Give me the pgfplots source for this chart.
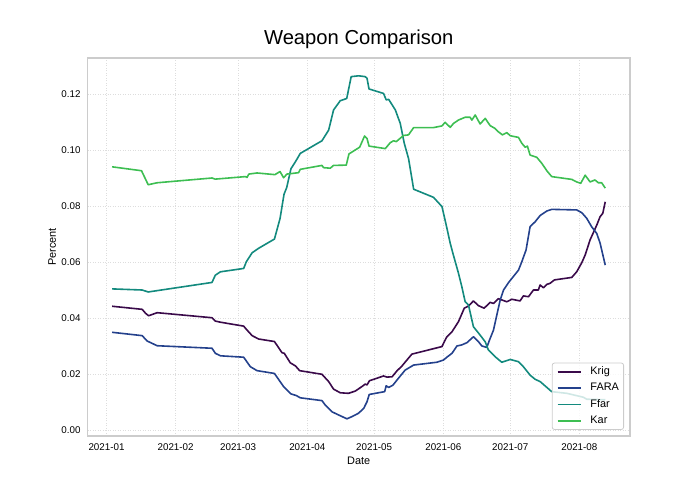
\documentclass[border=0pt]{standalone}
\usepackage{pgfplots}
\pgfplotsset{compat=1.18}
\usepackage{fontspec}
\setmainfont{Liberation Sans}
\definecolor{cKrig}{HTML}{3A0A4A}
\definecolor{cFARA}{HTML}{24418C}
\definecolor{cFfar}{HTML}{138A7E}
\definecolor{cKar}{HTML}{3DBE52}
\definecolor{frame}{HTML}{CCCCCC}
\definecolor{gridc}{HTML}{DDDDDD}
\begin{document}
\begin{tikzpicture}[x=1pt,y=1pt]
\path[use as bounding box] (0,0) rectangle (700,490);
\begin{axis}[
  at={(87.5pt,54pt)}, anchor=south west,
  scale only axis, width=542.5pt, height=378pt,
  xmin=-8.51, xmax=234.7, ymin=-0.00214, ymax=0.13286,
  xtick={0,31,59,90,120,151,181,212},
  xticklabels={2021-01,2021-02,2021-03,2021-04,2021-05,2021-06,2021-07,2021-08},
  ytick={0,0.02,0.04,0.06,0.08,0.10,0.12},
  scaled y ticks=false,
  /pgf/number format/assume math mode=true,
  tick label style={font=\fontsize{9.8}{11}\selectfont, inner sep=0pt},
  xticklabel style={yshift=-7pt},
  yticklabel style={xshift=-6.8pt, /pgf/number format/fixed, /pgf/number format/fixed zerofill, /pgf/number format/precision=2},
  major tick length=0pt,
  grid=major,
  grid style={draw=gridc, line width=0.9pt, dash pattern=on 0.9pt off 1.6pt},
  axis line style={draw=frame, line width=1.3pt},
  title={Weapon Comparison},
  title style={font=\fontsize{20.2}{23}\selectfont, at={(axis description cs:0.5,1)}, anchor=base, yshift=7.5pt, inner sep=0pt},
  xlabel={Date}, ylabel={Percent},
  xlabel style={font=\fontsize{10.9}{12}\selectfont, at={(axis description cs:0.5,-0.0741)}, anchor=base, inner sep=0pt},
  ylabel style={font=\fontsize{10.9}{12}\selectfont, at={(axis description cs:-0.0581,0.5)}, anchor=base, inner sep=0pt},
  legend cell align=left,
  legend image code/.code={\draw[#1, line width=1.6pt] (0pt,0pt) -- (23pt,0pt); \path (32pt,0pt);},
  legend style={at={(axis description cs:0.989,0.016)}, anchor=south east,
    draw=frame, line width=0.8pt, fill=white, fill opacity=0.8, text opacity=1,
    rounded corners=2.5pt, font=\fontsize{10.9}{12}\selectfont,
    inner xsep=4.7pt, inner ysep=4pt, row sep=6.6pt, column sep=0pt,
    nodes={inner sep=0pt, text height=7.7pt, text depth=2pt}},
  every axis plot/.append style={line width=1.6pt, line join=round},
]
\addplot[cKrig] coordinates {
(2.5,0.0442) (16.0,0.0431) (17.5,0.0417) (18.9,0.0408) (22.7,0.0419) (47.3,0.0401) (48.8,0.0389) (51.1,0.0385)
(61.5,0.0371) (63.0,0.0357) (65.3,0.0337) (68.2,0.0325) (75.3,0.0316) (78.7,0.0276) (79.7,0.0274) (82.4,0.0240)
(84.7,0.0229) (86.6,0.0212) (96.6,0.0199) (99.6,0.0173) (101.8,0.0146) (104.8,0.0133) (108.5,0.0131) (111.5,0.0139)
(114.5,0.0155) (116.0,0.0164) (116.8,0.0161) (117.9,0.0176) (124.2,0.0193) (125.7,0.0189) (128.0,0.0190) (130.2,0.0211)
(132.5,0.0229) (134.7,0.0250) (136.9,0.0271) (150.4,0.0298) (151.8,0.0321) (152.6,0.0333) (154.9,0.0351) (157.8,0.0387)
(160.4,0.0435) (162.3,0.0443) (164.5,0.0461) (166.8,0.0444) (169.3,0.0435) (172.0,0.0456) (173.5,0.0452) (175.7,0.0469)
(179.5,0.0458) (181.7,0.0467) (185.4,0.0461) (186.9,0.0479) (189.2,0.0476) (191.4,0.0500) (193.6,0.0500) (194.4,0.0518)
(195.9,0.0508) (197.4,0.0520) (198.9,0.0524) (200.8,0.0536) (208.6,0.0545) (210.8,0.0565) (213.1,0.0598) (214.6,0.0625)
(216.8,0.0679) (219.8,0.0732) (221.3,0.0762) (222.5,0.0774) (223.6,0.0815)
};
\addlegendentry{Krig}
\addplot[cFARA] coordinates {
(2.5,0.0349) (16.0,0.0337) (18.2,0.0318) (22.7,0.0301) (47.3,0.0292) (48.8,0.0274) (51.1,0.0265) (61.5,0.0260)
(64.5,0.0226) (67.5,0.0212) (75.3,0.0202) (79.4,0.0155) (82.7,0.0129) (85.1,0.0123) (86.9,0.0115) (96.6,0.0105)
(98.1,0.0089) (101.1,0.0065) (104.8,0.0051) (107.8,0.0040) (110.1,0.0048) (113.0,0.0060) (115.3,0.0077) (116.8,0.0101)
(117.8,0.0127) (124.7,0.0137) (125.4,0.0158) (126.5,0.0152) (128.4,0.0160) (130.9,0.0185) (133.9,0.0214) (137.7,0.0232)
(148.1,0.0242) (151.1,0.0250) (152.6,0.0260) (154.9,0.0274) (157.1,0.0300) (159.3,0.0304) (161.6,0.0312) (164.5,0.0333)
(166.8,0.0315) (168.3,0.0300) (170.5,0.0295) (171.7,0.0321) (173.5,0.0357) (175.0,0.0411) (176.5,0.0464) (178.0,0.0500)
(180.2,0.0526) (182.4,0.0548) (184.7,0.0571) (186.2,0.0601) (188.1,0.0643) (189.9,0.0726) (192.2,0.0744) (194.4,0.0766)
(197.4,0.0782) (199.6,0.0788) (210.8,0.0786) (213.1,0.0776) (215.3,0.0756) (217.5,0.0726) (219.8,0.0702) (221.3,0.0667)
(223.6,0.0589)
};
\addlegendentry{FARA}
\addplot[cFfar] coordinates {
(2.5,0.0504) (16.0,0.0500) (18.7,0.0493) (47.3,0.0527) (48.8,0.0553) (51.1,0.0565) (61.5,0.0577) (62.7,0.0601)
(65.3,0.0633) (68.2,0.0649) (75.3,0.0682) (77.8,0.0755) (79.6,0.0842) (80.8,0.0866) (82.7,0.0933) (84.7,0.0958)
(86.9,0.0988) (96.6,0.1033) (99.6,0.1071) (101.8,0.1143) (104.8,0.1176) (107.7,0.1184) (109.7,0.1262) (113.0,0.1265)
(116.0,0.1262) (116.8,0.1256) (117.7,0.1218) (124.2,0.1202) (125.4,0.1179) (126.5,0.1181) (129.5,0.1143) (131.7,0.1095)
(133.5,0.1024) (135.4,0.0970) (137.7,0.0860) (146.6,0.0831) (150.4,0.0798) (152.3,0.0732) (154.1,0.0667) (155.3,0.0631)
(157.8,0.0560) (159.3,0.0512) (160.8,0.0458) (162.3,0.0446) (164.5,0.0369) (167.5,0.0339) (169.8,0.0315) (171.2,0.0286)
(174.2,0.0262) (177.2,0.0242) (181.0,0.0252) (184.7,0.0244) (186.9,0.0226) (189.9,0.0196) (192.2,0.0181) (194.4,0.0173)
(199.6,0.0137) (206.4,0.0131) (213.8,0.0117) (215.3,0.0110) (223.6,0.0108)
};
\addlegendentry{Ffar}
\addplot[cKar] coordinates {
(2.5,0.0940) (15.7,0.0926) (18.7,0.0876) (22.7,0.0883) (47.3,0.0900) (48.8,0.0896) (62.3,0.0905) (63.0,0.0902)
(63.8,0.0914) (67.5,0.0918) (75.5,0.0912) (77.8,0.0923) (79.4,0.0901) (80.9,0.0914) (86.1,0.0919) (86.9,0.0931)
(96.6,0.0945) (97.3,0.0937) (100.3,0.0935) (101.8,0.0945) (107.5,0.0946) (108.7,0.0986) (113.5,0.1010) (115.7,0.1050)
(116.8,0.1041) (117.7,0.1014) (125.0,0.1005) (127.2,0.1026) (128.7,0.1033) (129.9,0.1030) (133.2,0.1052) (135.4,0.1054)
(137.7,0.1080) (146.6,0.1080) (150.4,0.1086) (151.8,0.1099) (154.1,0.1081) (155.6,0.1095) (157.8,0.1107) (160.8,0.1117)
(163.0,0.1117) (163.8,0.1107) (165.3,0.1125) (167.5,0.1093) (169.8,0.1113) (172.0,0.1087) (174.2,0.1077) (175.7,0.1065)
(177.5,0.1054) (179.5,0.1062) (181.0,0.1051) (184.7,0.1045) (186.2,0.1024) (187.7,0.1010) (188.7,0.1014) (189.9,0.0982)
(192.9,0.0974) (195.2,0.0952) (197.4,0.0926) (199.6,0.0905) (208.6,0.0895) (210.8,0.0886) (212.6,0.0881) (214.6,0.0910)
(216.8,0.0886) (219.0,0.0893) (220.5,0.0883) (222.0,0.0883) (223.6,0.0864)
};
\addlegendentry{Kar}
\end{axis}
\end{tikzpicture}
\end{document}
